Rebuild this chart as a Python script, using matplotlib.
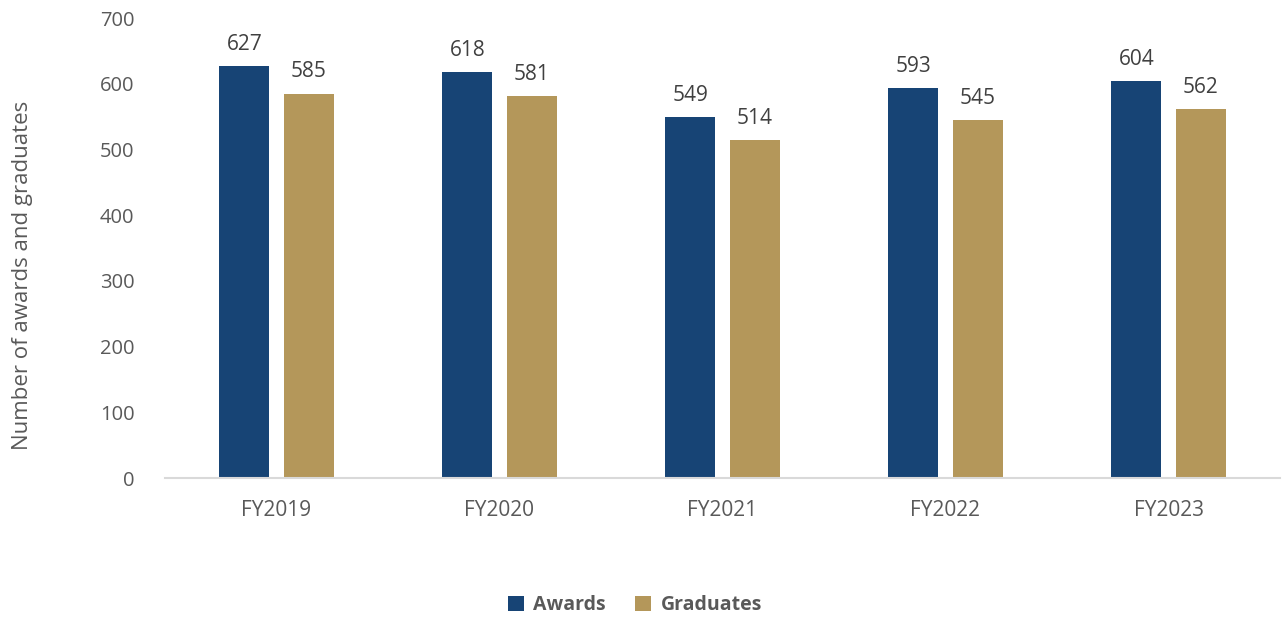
import matplotlib
matplotlib.use("Agg")
import matplotlib.pyplot as plt
import numpy as np

years = ["FY2019", "FY2020", "FY2021", "FY2022", "FY2023"]
awards = [627, 618, 549, 593, 604]
graduates = [585, 581, 514, 545, 562]

plt.rcParams['font.family'] = ['Open Sans', 'DejaVu Sans']
grey = '#595959'

fig = plt.figure(figsize=(12.82, 6.19), dpi=100)
ax = fig.add_axes([165/1282, 1 - 478/619, 1115/1282, 460/619])

x = np.arange(len(years))
w = 0.224
off = 0.144
b1 = ax.bar(x - off, awards, w, color='#174475', label='Awards')
b2 = ax.bar(x + off, graduates, w, color='#B4975A', label='Graduates')

for bars in (b1, b2):
    for b in bars:
        ax.annotate(str(int(b.get_height())), (b.get_x() + b.get_width()/2, b.get_height()),
                    xytext=(0, 8), textcoords='offset points', ha='center', va='bottom',
                    fontsize=15, color='#404040')

ax.set_xlim(-0.5, len(years) - 0.5)
ax.set_ylim(0, 700)
ax.set_yticks(range(0, 701, 100))
ax.set_xticks(x)
ax.set_xticklabels(years)
ax.tick_params(axis='both', length=0, labelsize=14.5, labelcolor=grey)
ax.tick_params(axis='x', pad=16, labelsize=15)
ax.tick_params(axis='y', pad=22)
for s in ['top', 'right', 'left']:
    ax.spines[s].set_visible(False)
ax.spines['bottom'].set_color('#D9D9D9')
ax.spines['bottom'].set_linewidth(1.5)

ax.set_ylabel('Number of awards and graduates', fontsize=16, color=grey)
ax.yaxis.set_label_coords(-0.118, 0.44)

fig.legend(handles=[b1, b2], loc='center', bbox_to_anchor=(635/1282, 1 - 605/619),
           ncol=2, frameon=False, handlelength=0.8, handleheight=0.8, handletextpad=0.5,
           columnspacing=1.5, prop={'weight': 'bold', 'size': 14}, labelcolor=grey)

fig.savefig('out.png', dpi=100)
